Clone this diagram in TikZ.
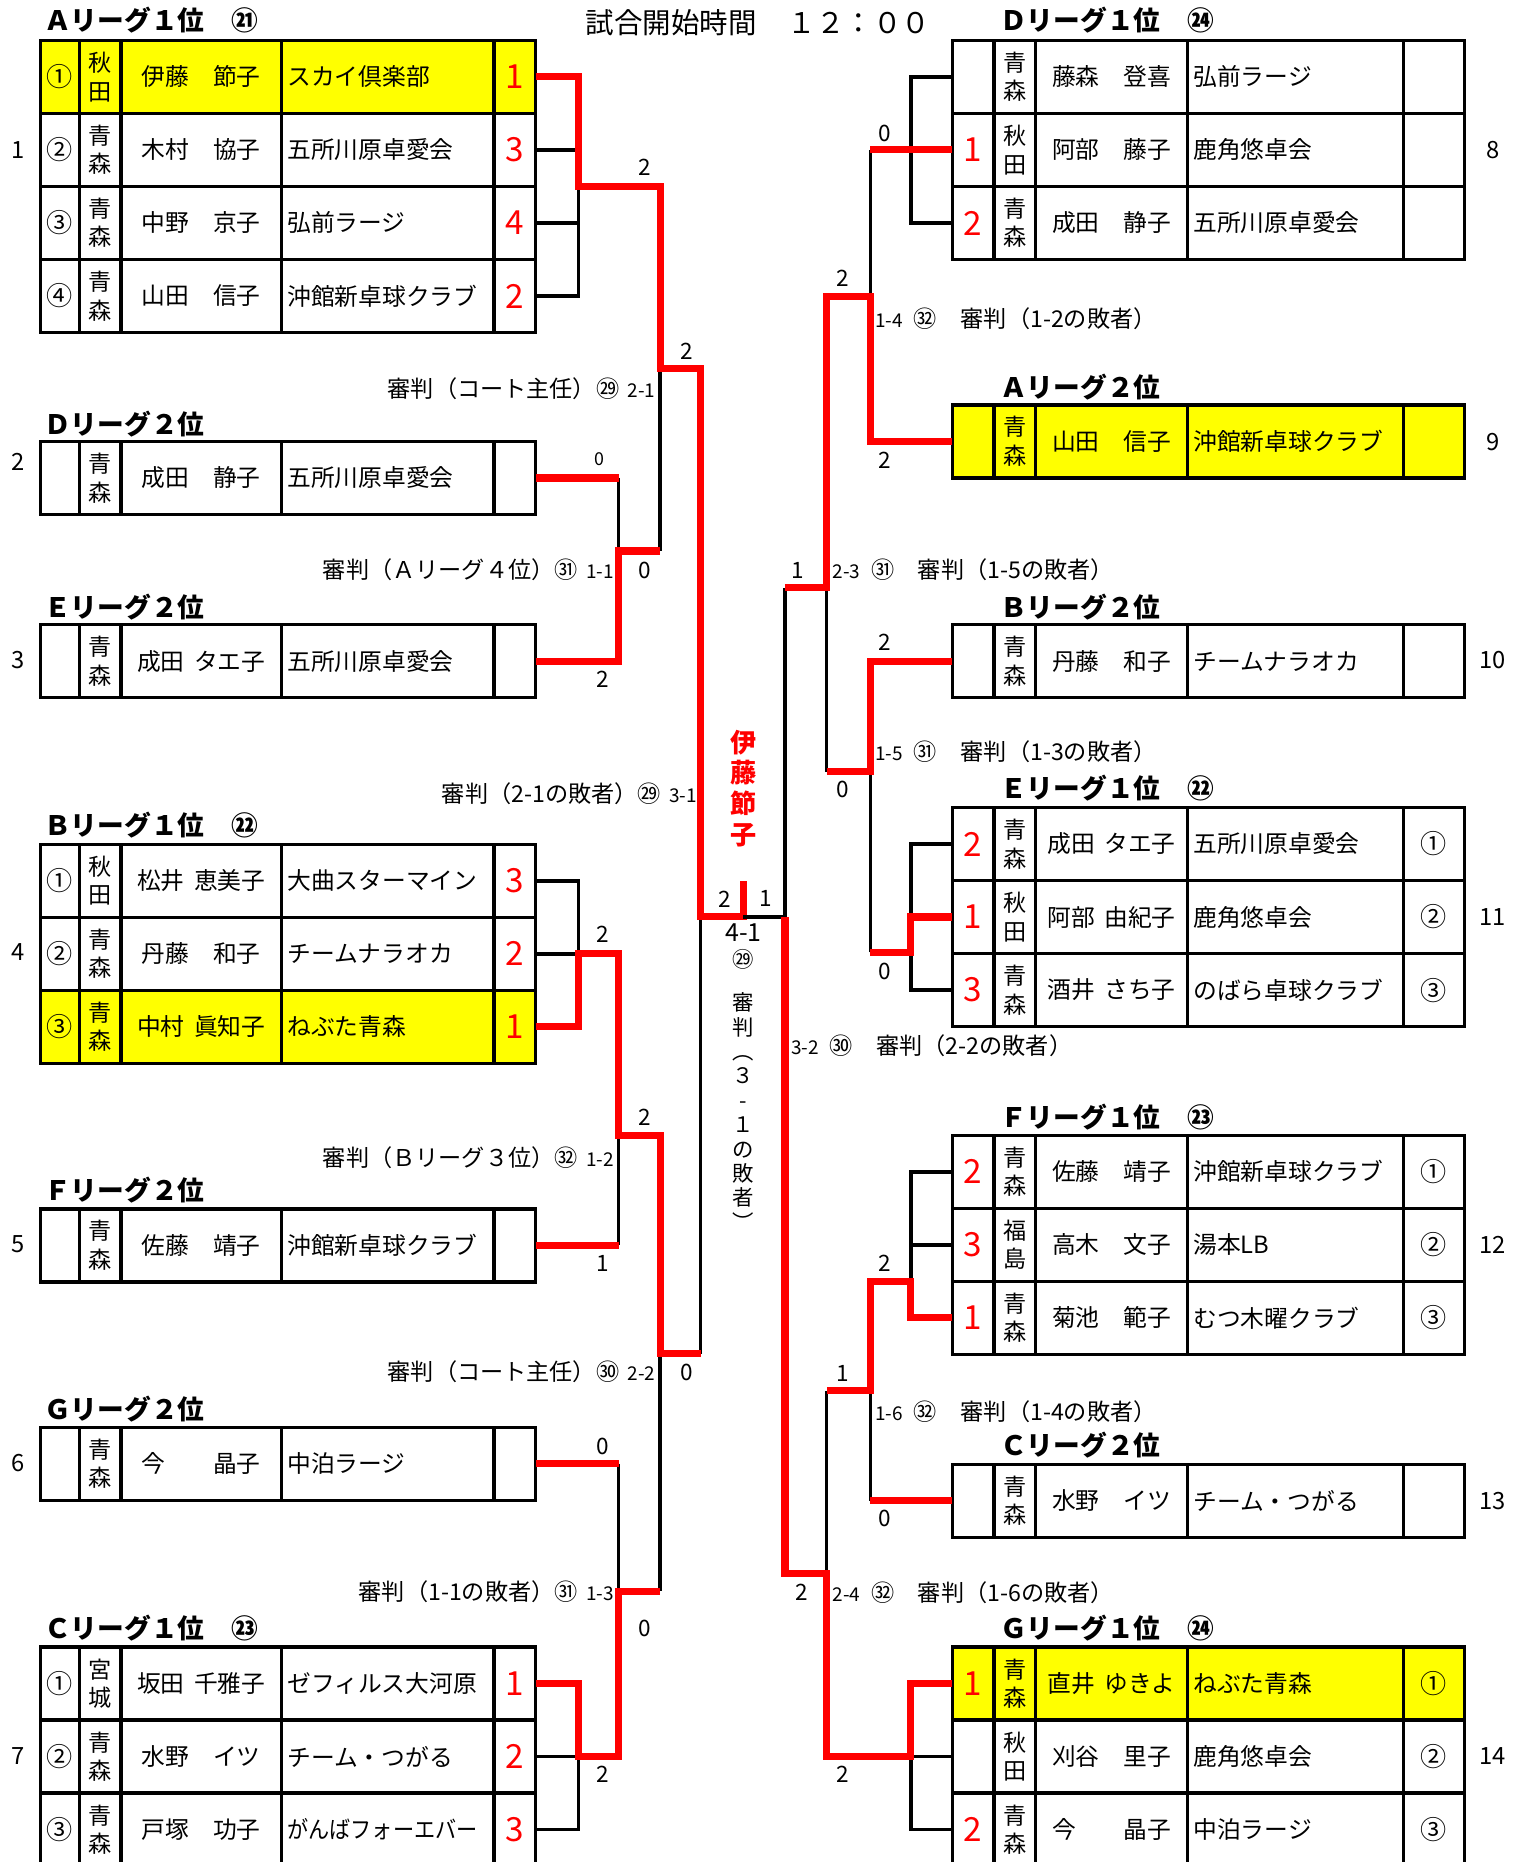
\documentclass[tikz,border=0pt]{standalone}
\usepackage{fontspec}
\setmainfont{Noto Sans CJK JP}
\definecolor{tred}{HTML}{FF0000}
\definecolor{hilite}{HTML}{FFFF00}
\newcommand{\hs}{\hspace{0.4em}}
\newcommand{\mtch}[1]{{\fontsize{16}{18}\selectfont #1}}
% left table row: id, y, fill, rank, pref, player, club, score
\newcommand{\lrow}[8]{%
  \node[cell, fill=#3, minimum width=33pt, rankcell] (#1rk) at (50.5,#2) {#4};
  \node[cell, fill=#3, minimum width=35pt, prefcell] (#1pf) at (84.5,#2) {#5};
  \node[cell, fill=#3, minimum width=135pt] (#1nm) at (169.5,#2) {#6};
  \node[cell, fill=#3, minimum width=179pt, clubcell=169pt] (#1cl) at (326.5,#2) {#7};
  \node[cell, fill=#3, minimum width=35pt, scorecell] (#1sc) at (433.5,#2) {#8};
}
% right table row: id, y, fill, score, pref, player, club, rank
\newcommand{\rrow}[8]{%
  \node[cell, fill=#3, minimum width=35pt, scorecell] (#1sc) at (819.5,#2) {#4};
  \node[cell, fill=#3, minimum width=35pt, prefcell] (#1pf) at (854.5,#2) {#5};
  \node[cell, fill=#3, minimum width=128pt] (#1nm) at (936,#2) {#6};
  \node[cell, fill=#3, minimum width=182pt, clubcell=172pt] (#1cl) at (1091,#2) {#7};
  \node[cell, fill=#3, minimum width=51pt, rankcell] (#1rk) at (1207.5,#2) {#8};
}
\tikzset{
  cell/.style={draw=black, line width=2.8pt, minimum height=61.5pt, inner sep=0pt, outer sep=0pt,
    font=\fontsize{20}{24}\selectfont},
  prefcell/.style={align=center, font=\fontsize{19.5}{24}\selectfont},
  clubcell/.style={text width=#1, align=left, inner xsep=5pt},
  scorecell/.style={text=tred, font=\fontsize{28}{30}\selectfont},
  rankcell/.style={font=\fontsize{22}{24}\selectfont},
  win/.style={draw=tred, line width=6pt},
  lose/.style={draw=black, line width=3pt},
  lgtitle/.style={anchor=west, inner sep=0pt, font=\bfseries\fontsize{22.5}{26}\selectfont},
  rowno/.style={font=\fontsize{20}{24}\selectfont},
  pts/.style={inner sep=0pt, font=\fontsize{19}{22}\selectfont},
  refnote/.style={inner sep=0pt, font=\fontsize{19.5}{22}\selectfont},
}
\begin{document}
\begin{tikzpicture}[x=1pt, y=-1pt]
  \useasboundingbox (0,0) rectangle (1283,1568);
  \fill[white] (0,0) rectangle (1283,1568);

  \node[anchor=west, inner sep=0pt, font=\fontsize{24}{28}\selectfont] (time) at (493,19)
    {試合開始時間\hspace{26pt}１２：００};

  % ---------------------------------------------------------------- left tables
  \foreach \x/\y/\txt [count=\i] in {37/17/Ａリーグ１位　㉑, 37/357/Ｄリーグ２位, 37/511/Ｅリーグ２位,
      37/695/Ｂリーグ１位　㉒, 37/1002/Ｆリーグ２位, 37/1187/Ｇリーグ２位, 37/1371/Ｃリーグ１位　㉓}
    \node[lgtitle] (tl\i) at (\x,\y) {\txt};

  \lrow{A1}{64.75}{hilite}{①}{秋\\田}{伊藤　節子}{スカイ倶楽部}{1}
  \lrow{A2}{126.25}{white}{②}{青\\森}{木村　協子}{五所川原卓愛会}{3}
  \lrow{A3}{187.75}{white}{③}{青\\森}{中野　京子}{弘前ラージ}{4}
  \lrow{A4}{249.25}{white}{④}{青\\森}{山田　信子}{沖館新卓球クラブ}{2}
  \lrow{Dtwo}{402.5}{white}{}{青\\森}{成田　静子}{五所川原卓愛会}{}
  \lrow{Etwo}{556.75}{white}{}{青\\森}{成田\hs タエ子}{五所川原卓愛会}{}
  \lrow{B1}{741.75}{white}{①}{秋\\田}{松井\hs 恵美子}{大曲スターマイン}{3}
  \lrow{B2}{803.25}{white}{②}{青\\森}{丹藤　和子}{チームナラオカ}{2}
  \lrow{B3}{864.75}{hilite}{③}{青\\森}{中村\hs 眞知子}{ねぶた青森}{1}
  \lrow{Ftwo}{1048.75}{white}{}{青\\森}{佐藤　靖子}{沖館新卓球クラブ}{}
  \lrow{Gtwo}{1232.75}{white}{}{青\\森}{今　　晶子}{中泊ラージ}{}
  \lrow{C1}{1417.75}{white}{①}{宮\\城}{坂田\hs 千雅子}{ゼフィルス大河原}{1}
  \lrow{C2}{1479.25}{white}{②}{青\\森}{水野　イツ}{チーム・つがる}{2}
  \lrow{C3}{1540.75}{white}{③}{青\\森}{戸塚　功子}{\scalebox{0.89}[1]{がんばフォーエバー}}{3}

  % ---------------------------------------------------------------- right tables
  \foreach \x/\y/\txt [count=\i] in {842/17/Ｄリーグ１位　㉔, 842/326/Ａリーグ２位, 842/511/Ｂリーグ２位,
      842/664/Ｅリーグ１位　㉒, 842/941/Ｆリーグ１位　㉓, 842/1217/Ｃリーグ２位, 842/1371/Ｇリーグ１位　㉔}
    \node[lgtitle] (tr\i) at (\x,\y) {\txt};

  \rrow{D1}{64.75}{white}{}{青\\森}{藤森　登喜}{弘前ラージ}{}
  \rrow{D2}{126.25}{white}{1}{秋\\田}{阿部　藤子}{鹿角悠卓会}{}
  \rrow{D3}{187.75}{white}{2}{青\\森}{成田　静子}{五所川原卓愛会}{}
  \rrow{Atwo}{371.75}{hilite}{}{青\\森}{山田　信子}{沖館新卓球クラブ}{}
  \rrow{Btwo}{556.75}{white}{}{青\\森}{丹藤　和子}{チームナラオカ}{}
  \rrow{E1}{710.75}{white}{2}{青\\森}{成田\hs タエ子}{五所川原卓愛会}{①}
  \rrow{E2}{772.25}{white}{1}{秋\\田}{阿部\hs 由紀子}{鹿角悠卓会}{②}
  \rrow{E3}{833.75}{white}{3}{青\\森}{酒井\hs さち子}{のばら卓球クラブ}{③}
  \rrow{F1}{986.75}{white}{2}{青\\森}{佐藤　靖子}{沖館新卓球クラブ}{①}
  \rrow{F2}{1048.25}{white}{3}{福\\島}{高木　文子}{湯本LB}{②}
  \rrow{F3}{1109.75}{white}{1}{青\\森}{菊池　範子}{むつ木曜クラブ}{③}
  \rrow{Ctwo}{1263.75}{white}{}{青\\森}{水野　イツ}{チーム・つがる}{}
  \rrow{G1}{1417.75}{hilite}{1}{青\\森}{直井\hs ゆきよ}{ねぶた青森}{①}
  \rrow{G2}{1479.25}{white}{}{秋\\田}{刈谷　里子}{鹿角悠卓会}{②}
  \rrow{G3}{1540.75}{white}{2}{青\\森}{今　　晶子}{中泊ラージ}{③}

  \foreach \x/\y/\n in {15/126/1, 15/389/2, 15/556/3, 15/802/4, 15/1048/5, 15/1232/6, 15/1479/7,
      1257/126/8, 1257/372/9, 1257/556/10, 1257/772/11, 1257/1048/12, 1257/1264/13, 1257/1479/14}
    \node[rowno] (no\n) at (\x,\y) {\n};

  % ---------------------------------------------------------------- junctions
  \coordinate (jA) at (487,157);
  \coordinate (j11) at (521,464);
  \coordinate (j21) at (556,310);
  \coordinate (jB) at (487,803.25);
  \coordinate (j12) at (521,956);
  \coordinate (jC) at (487,1479.25);
  \coordinate (j13) at (521,1340);
  \coordinate (j22) at (556,1140);
  \coordinate (j31) at (590,772);
  \coordinate (champ) at (626,742);
  \coordinate (j32) at (661,772);
  \coordinate (jD) at (767,126.25);
  \coordinate (j14) at (733,250);
  \coordinate (j15) at (733,650);
  \coordinate (jE) at (767,802);
  \coordinate (j23) at (696,495);
  \coordinate (jF) at (767,1079);
  \coordinate (j16) at (733,1171);
  \coordinate (jG) at (767,1479.25);
  \coordinate (j24) at (696,1325);

  % ---------------------------------------------------------------- left bracket
  \draw[lose] (A2sc.east) -- (A2sc.east -| jA);
  \draw[lose] (A3sc.east) -- (A3sc.east -| jA);
  \draw[lose] (A4sc.east) -| (jA);
  \draw[lose] (Dtwosc.east -| j11) -- (j11);
  \draw[lose] (j11 -| j21) -- (j21);
  \draw[lose] (B1sc.east) -| (jB);
  \draw[lose] (B2sc.east) -- (jB);
  \draw[lose] (Ftwosc.east -| j12) -- (j12);
  \draw[lose] (j22 -| j31) -- (j31);
  \draw[lose] (Gtwosc.east -| j13) -- (j13);
  \draw[lose] (C2sc.east) -- (jC);
  \draw[lose] (C3sc.east) -| (jC);
  \draw[lose] (j13 -| j22) -- (j22);

  \draw[win] (A1sc.east) -| (jA) -| (j21) -| (j31) -| (champ);
  \draw[win] (Dtwosc.east) -- (Dtwosc.east -| j11);
  \draw[win] (Etwosc.east) -| (j11) -- (j11 -| j21);
  \draw[win] (B3sc.east) -| (jB) -| (j12) -| (j22) -- (j22 -| j31);
  \draw[win] (Ftwosc.east) -- (Ftwosc.east -| j12);
  \draw[win] (Gtwosc.east) -- (Gtwosc.east -| j13);
  \draw[win] (C1sc.east) -| (jC) -| (j13) -- (j13 -| j22);

  % ---------------------------------------------------------------- right bracket
  \draw[lose] (champ |- j31) -- (j32);
  \draw[lose] (D1sc.west) -| (jD) |- (D3sc.west);
  \draw[lose] (D2sc.west -| j14) -- (j14);
  \draw[lose] (j23 -| j32) -- (j32);
  \draw[lose] (j15 -| j23) -- (j23);
  \draw[lose] (E1sc.west) -| (jE) |- (E3sc.west);
  \draw[lose] (jE -| j15) -- (j15);
  \draw[lose] (F1sc.west) -| (jF);
  \draw[lose] (F2sc.west) -- (F2sc.west -| jF);
  \draw[lose] (Ctwosc.west -| j16) -- (j16);
  \draw[lose] (j16 -| j24) -- (j24);
  \draw[lose] (G2sc.west) -- (jG);
  \draw[lose] (G3sc.west) -| (jG);

  \draw[win] (D2sc.west) -- (D2sc.west -| j14);
  \draw[win] (Atwosc.west) -| (j14) -| (j23) -- (j23 -| j32);
  \draw[win] (Btwosc.west) -| (j15) -- (j15 -| j23);
  \draw[win] (E2sc.west) -| (jE) -- (jE -| j15);
  \draw[win] (F3sc.west) -| (jF) -| (j16) -- (j16 -| j24);
  \draw[win] (Ctwosc.west) -- (Ctwosc.west -| j16);
  \draw[win] (G1sc.west) -| (jG) -| (j24) -| (j32);

  % ---------------------------------------------------------------- game scores
  \foreach \x/\y/\txt [count=\i] in {543/141/2, 578/296/2, 543/480/0, 508/572/2, 508/787/2, 543/941/2,
      508/1064/1, 578/1156/0, 508/1218/0, 543/1371/0, 508/1494/2, 610/757/2, 645/757/1,
      745/112/0, 710/234/2, 745/388/2, 672/480/1, 745/541/2, 710/665/0, 745/818/0,
      745/1064/2, 710/1157/1, 745/1279/0, 675/1341/2, 710/1494/2}
    \node[pts] (pt\i) at (\x,\y) {\txt};
  \node[pts, font=\fontsize{15}{18}\selectfont] (ptD) at (505,387) {0};

  % ---------------------------------------------------------------- referees
  \foreach \x/\y/\txt/\m [count=\i] in {552/327/審判（コート主任）㉙/2-1, 517/480/審判（Ａリーグ４位）㉛/1-1,
      587/668/審判（2-1の敗者）㉙/3-1, 517/975/審判（Ｂリーグ３位）㉜/1-2,
      552/1155/審判（コート主任）㉚/2-2, 517/1340/審判（1-1の敗者）㉛/1-3}
    \node[refnote, anchor=east] (refl\i) at (\x,\y) {\txt\hspace{7pt}\mtch{\m}};
  \foreach \x/\y/\m/\cn/\txt [count=\i] in {737/268/1-4/㉜/審判（1-2の敗者）, 701/480/2-3/㉛/審判（1-5の敗者）,
      737/633/1-5/㉛/審判（1-3の敗者）, 666/881/3-2/㉚/審判（2-2の敗者）,
      737/1189/1-6/㉜/審判（1-4の敗者）, 701/1341/2-4/㉜/審判（1-6の敗者）}
    \node[refnote, anchor=west] (refr\i) at (\x,\y) {\mtch{\m}\hspace{9pt}\cn\hspace{20pt}\txt};

  % ---------------------------------------------------------------- final
  \node[align=center, text=tred, font=\bfseries\fontsize{22}{26}\selectfont] (winner) at (626,664)
    {伊\\藤\\節\\子};
  \node[inner sep=0pt, font=\fontsize{21}{24}\selectfont] (fid) at (626,785) {4-1};
  \node[inner sep=0pt, font=\fontsize{18}{20}\selectfont] (fcourt) at (626,808) {㉙};
  \node[align=center, font=\fontsize{18}{20.5}\selectfont] (fref) at (626,936)
    {審\\判\\︵\\３\\-\\１\\の\\敗\\者\\︶};

\end{tikzpicture}
\end{document}
